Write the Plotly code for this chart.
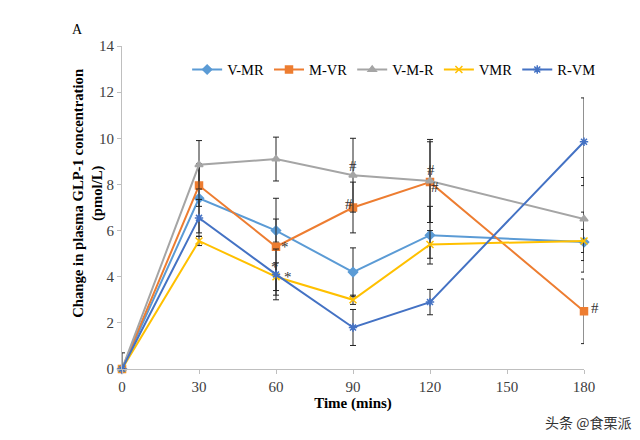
import plotly.graph_objects as go

times = [0, 30, 60, 90, 120, 180]
series_names = ["V-MR", "M-VR", "V-M-R", "VMR", "R-VM"]
v_mr = [0, 7.4, 6.0, 4.2, 5.8, 5.5]
m_vr = [0, 7.95, 5.3, 7.0, 8.1, 2.5]
v_m_r = [0, 8.85, 9.1, 8.4, 8.15, 6.5]
vmr = [0, 5.55, 4.0, 3.0, 5.4, 5.55]
r_vm = [0, 6.55, 4.1, 1.8, 2.9, 9.85]

err_v_mr = [0, 1.5, 0.5, 1.05, 1.25, 1.3]
err_m_vr = [0, 0.9, 2.1, 1.1, 1.75, 1.4]
err_v_m_r = [0.7, 1.05, 0.95, 1.6, 1.8, 1.8]
err_vmr = [0, 0.2, 0.6, 0.2, 0.6, 0.5]
err_r_vm = [0, 0.8, 1.1, 0.78, 0.55, 1.9]

colors = ["#5B9BD5", "#ED7D31", "#A5A5A5", "#FFC000", "#4472C4"]
symbols = ["diamond", "square", "triangle-up", "x-thin-open", "asterisk-open"]
values = [v_mr, m_vr, v_m_r, vmr, r_vm]
errors = [err_v_mr, err_m_vr, err_v_m_r, err_vmr, err_r_vm]

# significance marks: (x, y, text, xshift, yshift)
marks = [
    (60, 5.3, "*", 9, 0), (60, 4.0, "*", 12, 0), (60, 4.1, "*", -1, 7),
    (90, 8.4, "#", 0, 9), (90, 7.0, "#", -4, 4),
    (120, 8.1, "#", 1, 12), (120, 8.1, "#", 5, -5),
    (180, 2.5, "#", 11, 3),
]

serif = "Liberation Serif, Times New Roman, serif"
fig = go.Figure()
for name, y, e, c, s in zip(series_names, values, errors, colors, symbols):
    fig.add_trace(go.Scatter(
        x=times, y=y, name=name, mode="lines+markers",
        line=dict(color=c, width=2),
        marker=dict(symbol=s, size=7, color=c, line=dict(color=c, width=1.5)),
        error_y=dict(type="data", array=e, visible=True, color="#222222",
                     thickness=1, width=3),
        cliponaxis=False,
    ))

annotations = []
for x, y, t, xs, ys in marks:
    annotations.append(dict(x=x, y=y, text=t, showarrow=False, xshift=xs, yshift=ys,
                            font=dict(family=serif, size=15, color="#333333")))
annotations.append(dict(xref="paper", yref="paper", x=-0.074, y=0.545,
                        xanchor="center", yanchor="middle",
                        text="<b>Change in plasma GLP-1 concentration<br>(pmol/L)</b>",
                        textangle=-90, showarrow=False,
                        font=dict(family=serif, size=14.7, color="black")))
annotations.append(dict(xref="paper", yref="paper", x=-0.097, y=1.05, text="A",
                        xanchor="center", yanchor="middle",
                        showarrow=False, font=dict(family=serif, size=14, color="black")))
annotations.append(dict(xref="paper", yref="paper", x=1.105, y=-0.164, text="头条 @食栗派",
                        xanchor="right", yanchor="middle", showarrow=False,
                        font=dict(family="Noto Sans CJK SC", size=14, color="#333333")))

fig.update_layout(
    width=632, height=432,
    margin=dict(l=114, r=56, t=38, b=71),
    paper_bgcolor="white", plot_bgcolor="white",
    font=dict(family=serif, size=15, color="#333333"),
    showlegend=True,
    legend=dict(orientation="h", x=0.141, y=0.927, xanchor="left", yanchor="middle",
                font=dict(family=serif, size=14.5, color="black"),
                tracegroupgap=0, bgcolor="rgba(0,0,0,0)"),
    xaxis=dict(range=[0, 180], tickvals=[0, 30, 60, 90, 120, 150, 180],
               showgrid=False, zeroline=False, showline=True, linecolor="#BFBFBF",
               linewidth=1, ticks="outside", ticklen=4, tickcolor="#BFBFBF",
               tickfont=dict(family=serif, size=15, color="#404040"),
               title=dict(text="<b>Time (mins)</b>", standoff=1,
                          font=dict(family=serif, size=15, color="black"))),
    yaxis=dict(range=[0, 14], tickvals=list(range(0, 15, 2)),
               showgrid=False, zeroline=False, showline=True, linecolor="#BFBFBF",
               linewidth=1, ticks="outside", ticklen=4, tickcolor="#BFBFBF",
               tickfont=dict(family=serif, size=15, color="#404040")),
    annotations=annotations,
)
fig.write_html("out.html")
